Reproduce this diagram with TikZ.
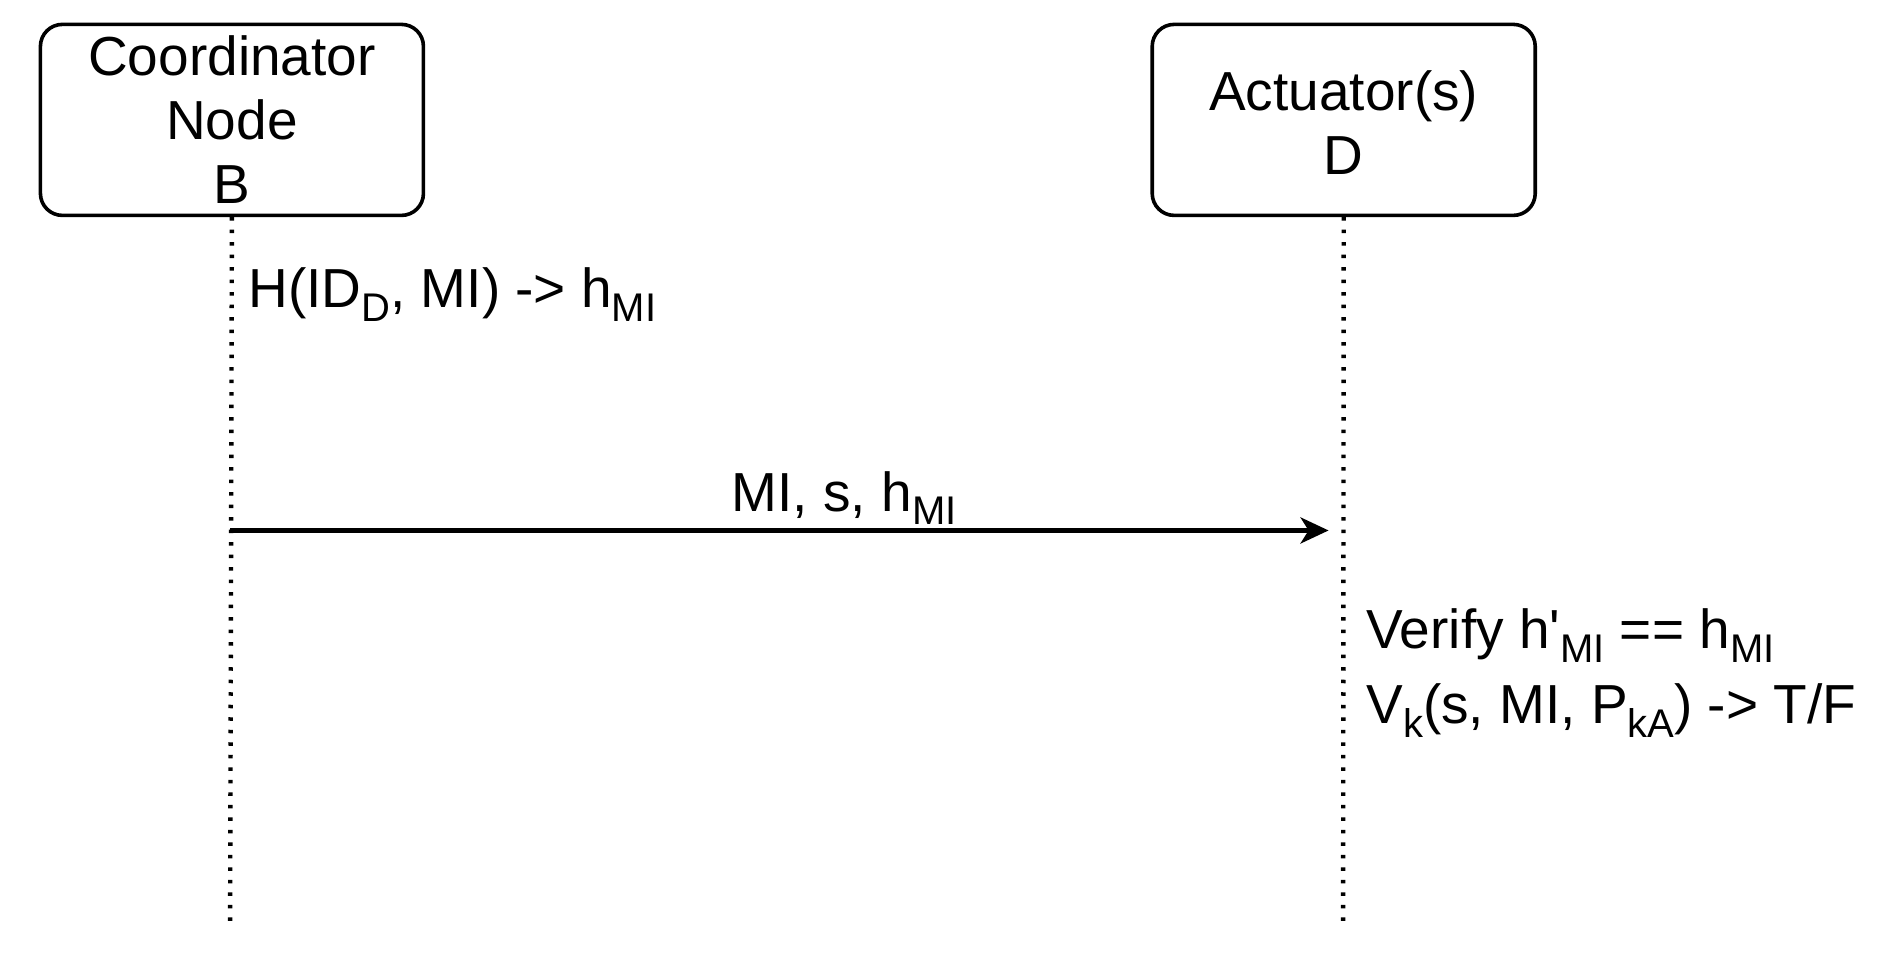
\documentclass[tikz,border=0pt]{standalone}
\usepackage{fontspec}
\setmainfont{Liberation Sans}
\usetikzlibrary{arrows.meta}
\newcommand{\sbs}[1]{\raisebox{-0.25em}{\fontsize{40}{40}\selectfont #1}}
\begin{document}
\begin{tikzpicture}[x=1.211pt,y=-1.211pt,
  actor/.style={draw,line width=3.6pt,rounded corners=22pt,minimum width=383pt,minimum height=191pt},
  life/.style={line width=4.4pt,dash pattern=on 3.5pt off 9pt},
  txt/.style={font=\fontsize{55}{64}\selectfont,inner sep=0pt}]
\useasboundingbox (0,0) rectangle (1568,796);
\node[actor] (B) at (191.5,99) {};
\node[font=\fontsize{55}{64}\selectfont,align=center] (Bt) at (191.5,99) {Coordinator\\Node\\B};
\node[actor] (D) at (1109.5,99) {};
\node[font=\fontsize{55}{64}\selectfont,align=center] (Dt) at (1109.5,101) {Actuator(s)\\D};
\coordinate (Be) at (190,765);
\coordinate (De) at (1109,765);
\draw[life] (B.south) -- (Be);
\draw[life] (D.south) -- (De);
\coordinate (a1) at (190,438);
\coordinate (a2) at (1097,438);
\draw[line width=4.6pt,-{Stealth[length=28pt,width=26pt,inset=8pt]}] (a1) -- (a2);
\node[txt,anchor=base] (m) at (697,422) {MI, s, h\sbs{MI}};
\node[txt,anchor=west] (h) at (205,243) {H(ID\sbs{D}, MI) -> h\sbs{MI}};
\node[txt,anchor=west] (v1) at (1128,525) {Verify h\textquotesingle\sbs{MI} == h\sbs{MI}};
\node[txt,anchor=west] (v2) at (1128,587) {V\sbs{k}(s, MI, P\sbs{kA}) -> T/F};
\end{tikzpicture}
\end{document}
